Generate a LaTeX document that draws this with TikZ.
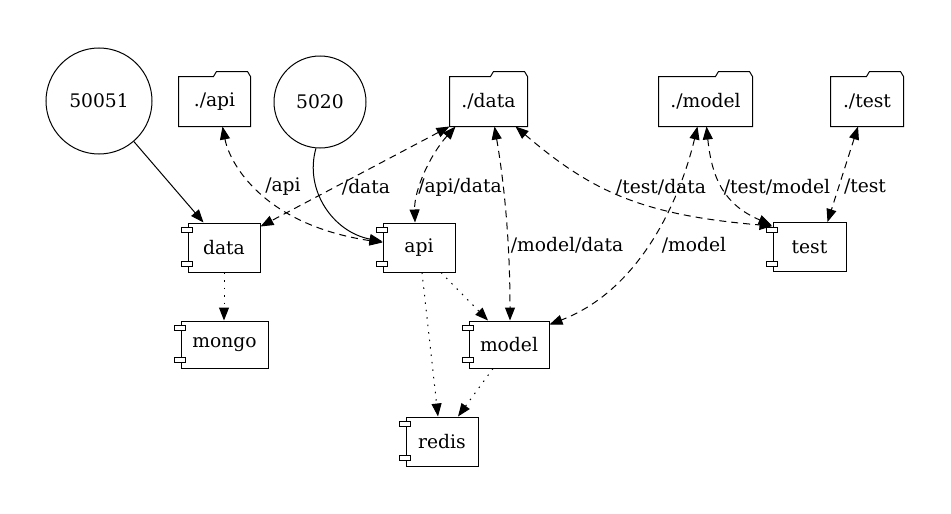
\documentclass[tikz,border=0pt]{standalone}
\usepackage{fontspec}
\setmainfont{DejaVu Serif}
\usetikzlibrary{arrows.meta}
\newcommand\compports[1]{%
  \draw[fill=white,line width=0.9pt] ([xshift=-6pt,yshift=-5pt]#1.north west) rectangle ([xshift=5pt,yshift=-10pt]#1.north west);
  \draw[fill=white,line width=0.9pt] ([xshift=-6pt,yshift=6pt]#1.south west) rectangle ([xshift=5pt,yshift=11pt]#1.south west);}
\newcommand\folderline[1]{%
  \draw (#1.south west) -- (#1.north west) -- ([xshift=-37pt]#1.north east) -- ([xshift=-34pt,yshift=5pt]#1.north east) -- ([xshift=-3pt,yshift=5pt]#1.north east) -- (#1.north east) -- (#1.south east) -- cycle;}
\begin{document}
\begin{tikzpicture}[x=1pt,y=-1pt,line width=1pt,
  every node/.style={font=\fontsize{18.7}{22}\selectfont},
  comp/.style={draw,rectangle,inner sep=0pt,minimum height=49pt},
  folder/.style={rectangle,inner sep=0pt,minimum height=49pt},
  port/.style={circle,draw,inner sep=0pt},
  lbl/.style={inner sep=0pt},
  tip/.tip={Triangle[length=13pt,width=10pt]},
  dep/.style={dash pattern=on 7pt off 5pt,{tip}-{tip}},
  use/.style={dash pattern=on 1.5pt off 6pt,-{tip}},
  link/.style={-{tip}}]
\useasboundingbox (0,0) rectangle (951,514);
% components
\node[comp,minimum width=72pt] (data) at (224,247.5) {data};
\node[comp,minimum width=72pt] (api) at (419,247.5) {api};
\node[comp,minimum width=73pt] (test) at (809.5,247) {test};
\node[comp,minimum width=87pt,minimum height=47pt] (mongo) at (224.5,344.5) {mongo};
\node[comp,minimum width=80pt,minimum height=47pt] (model) at (509,344.5) {model};
\node[comp,minimum width=72pt] (redis) at (442,441.5) {redis};
\compports{data}\compports{api}\compports{test}\compports{mongo}\compports{model}\compports{redis}
% folders
\node[folder,minimum width=71pt] (fapi) at (214.5,101.5) {./api};
\node[folder,minimum width=77pt] (fdata) at (488.5,101.5) {./data};
\node[folder,minimum width=93pt] (fmodel) at (705.5,101.5) {./model};
\node[folder,minimum width=72pt] (ftest) at (867,101.5) {./test};
\folderline{fapi}\folderline{fdata}\folderline{fmodel}\folderline{ftest}
% ports
\node[port,minimum size=106pt] (c50051) at (99,101) {50051};
\node[port,minimum size=92pt] (c5020) at (320,102) {5020};
% edges
\draw[link] (c50051) -- ([xshift=16pt]data.north west);
\draw[link] (c5020.265) .. controls (304,190) and (333,232) .. ([yshift=6pt]api.west);
\draw[dep] ([xshift=8pt]fapi.south) .. controls (230,165) and (265,225) .. ([yshift=5pt]api.west);
\draw[dep] (fdata.south west) -- ([yshift=-4pt]data.north east);
\draw[dep] ([xshift=6pt]fdata.south west) .. controls (430,155) and (414,190) .. ([xshift=-4pt]api.north);
\draw[dep] ([xshift=6pt]fdata.south) .. controls (502,170) and (510,230) .. ([xshift=1pt]model.north);
\draw[dep] ([xshift=-12pt]fdata.south east) .. controls (590,190) and (640,215) .. ([yshift=-4pt]test.north west);
\draw[dep] ([xshift=-8pt]fmodel.south) .. controls (680,200) and (640,290) .. ([yshift=-4pt]model.north east);
\draw[dep] ([xshift=1pt]fmodel.south) .. controls (712,180) and (725,205) .. ([xshift=-1pt,yshift=-3pt]test.north west);
\draw[dep] ([xshift=-9pt]ftest.south) -- ([xshift=18pt]test.north);
\draw[use] (data.south) -- (data.south |- mongo.north);
\draw[use] ([xshift=22pt]api.south) -- ([xshift=-21pt]model.north);
\draw[use] ([xshift=3pt]api.south) -- ([xshift=-4pt]redis.north);
\draw[use] ([xshift=-16pt]model.south) -- ([xshift=16pt]redis.north);
% labels
\node[lbl] (l1) at (283,187) {/api};
\node[lbl] (l2) at (366,187) {/data};
\node[lbl] (l3) at (460,187) {/api/data};
\node[lbl] (l4) at (661,187) {/test/data};
\node[lbl] (l5) at (777,187) {/test/model};
\node[lbl] (l6) at (865,187) {/test};
\node[lbl] (l7) at (567,245) {/model/data};
\node[lbl] (l8) at (694,245) {/model};
\end{tikzpicture}
\end{document}
